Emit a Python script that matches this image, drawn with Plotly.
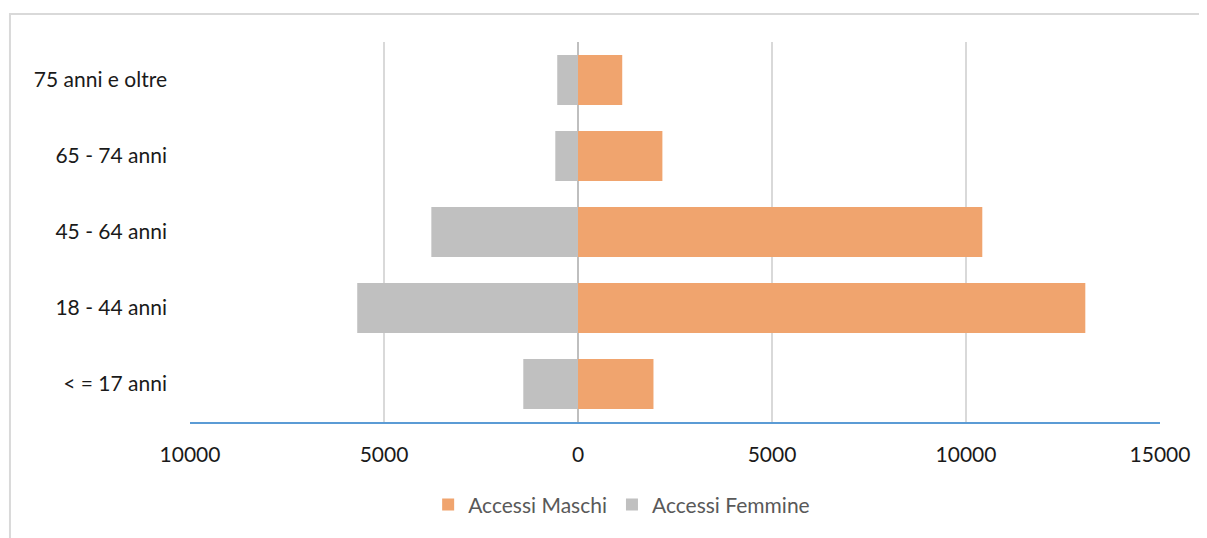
import plotly.graph_objects as go

categories = ["< = 17 anni", "18 - 44 anni", "45 - 64 anni", "65 - 74 anni", "75 anni e oltre"]
maschi = [1945, 13075, 10420, 2175, 1140]
femmine = [1410, 5690, 3780, 585, 535]

tick_vals = [-10000, -5000, 0, 5000, 10000, 15000]
tick_text = ["10000", "5000", "0", "5000", "10000", "15000"]

font_family = "Lato, 'Open Sans', sans-serif"

fig = go.Figure()
fig.add_trace(go.Bar(
    y=categories, x=maschi, name="Accessi Maschi", orientation="h",
    marker=dict(color="#F0A46E", line=dict(width=0)),
))
fig.add_trace(go.Bar(
    y=categories, x=[-v for v in femmine], name="Accessi Femmine", orientation="h",
    marker=dict(color="#C0C0C0", line=dict(width=0)),
))

fig.update_layout(
    width=1199, height=530,
    barmode="relative", bargap=0.34,
    plot_bgcolor="white", paper_bgcolor="white",
    margin=dict(l=182, r=47, t=34, b=116),
    font=dict(family=font_family, size=21, color="#1a1a1a"),
    legend=dict(orientation="h", x=0.445, xanchor="center", y=-0.218, yanchor="middle",
                font=dict(size=21, color="#595959"), traceorder="normal",
                itemwidth=30),
    xaxis=dict(range=[-10000, 15000], tickvals=tick_vals, ticktext=tick_text,
               showgrid=True, gridcolor="#D9D9D9", gridwidth=1.5,
               zeroline=True, zerolinecolor="#BFBFBF", zerolinewidth=1.5,
               showline=True, linecolor="#5B9BD5", linewidth=2,
               ticks="", ticklabelstandoff=13),
    yaxis=dict(showgrid=False, zeroline=False, showline=False, ticks="",
               ticklabelstandoff=22),
    shapes=[dict(type="rect", xref="paper", yref="paper",
                 x0=-0.1856, x1=1.08, y0=-0.35, y1=1.0737,
                 line=dict(color="#D9D9D9", width=2), layer="below")],
)

fig.write_html("out.html")
